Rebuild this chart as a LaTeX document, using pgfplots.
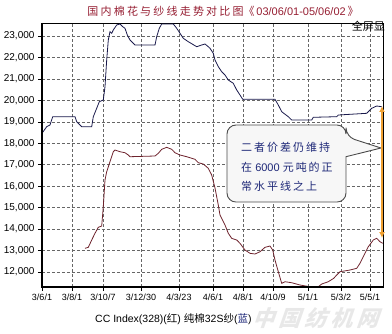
\documentclass[border=0pt]{standalone}
\usepackage{fontspec}
\setmainfont{Liberation Sans}
\newfontfamily\cjk{Noto Sans CJK SC}
\newfontfamily\cjkls[LetterSpace=18]{Noto Sans CJK SC}
\newfontfamily\cjkt[LetterSpace=20]{Noto Sans CJK SC}
\usepackage{pgfplots}
\pgfplotsset{compat=1.18}
\usetikzlibrary{arrows.meta}
\definecolor{titlered}{RGB}{150,30,50}
\definecolor{yarnblue}{RGB}{25,25,75}
\definecolor{cotred}{RGB}{110,35,45}
\definecolor{boxtext}{RGB}{30,40,120}
\definecolor{arroworange}{RGB}{240,160,50}
\begin{document}
\begin{tikzpicture}
\path[use as bounding box] (-42pt,-47pt) rectangle (350pt,287pt);
% watermark
\node[anchor=west, text=gray!18, font=\fontsize{22}{24}\selectfont\cjkls\bfseries, xslant=0.35] at (210pt,-31pt) {中国纺机网};
\begin{axis}[
  at={(0pt,0pt)}, anchor=south west,
  scale only axis, width=341pt, height=264pt,
  xmin=0, xmax=341, ymin=11300, ymax=23606,
  xtick={0,30,61,99,137,171,201,231,266,299,328},
  xticklabels={3/6/1,3/8/1,3/10/7,3/12/30,4/3/23,4/6/1,4/8/1,4/10/9,5/1/1,5/3/2,5/5/1},
  minor x tick num=2,
  ytick={12000,13000,...,23000},
  scaled y ticks=false,
  /pgf/number format/1000 sep={,},
  /pgf/number format/assume math mode=true,
  xticklabel style={font=\fontsize{9}{10}\selectfont, yshift=1pt},
  yticklabel style={font=\fontsize{10}{11}\selectfont},
  tick align=outside, xtick pos=bottom, ytick pos=left,
  major tick length=4pt, minor tick length=2.5pt,
  tick style={black, line width=0.6pt},
  grid=major,
  major grid style={gray!80!black, line width=0.5pt, dash pattern=on 3pt off 2pt},
  axis line style={black, line width=0.8pt},
  clip=false,
]
% 纯棉32S纱 (blue)
\addplot[yarnblue, line width=0.8pt] coordinates {
(0,18464) (4.7,18772) (8,18851) (10.7,19238) (33,19238) (34.7,19005) (39.7,18772)
(49.7,18772) (51.3,19238) (54.7,19629) (57.3,19937) (61.3,20016) (63,20636)
(64.7,21881) (66.3,22814) (68,23200) (69.7,23126) (71.3,23280) (74.7,23513)
(78,23560) (80.7,23434) (83,23359) (85.3,23047) (88,22814) (93,22580) (113,22580)
(114.7,22967) (117.3,23359) (119.7,23560) (131.3,23560) (134.7,23359) (138,23126)
(141.3,22893) (146.3,22734) (154.7,22501) (159.7,22580) (163,22627) (166.3,22501)
(168,22427) (171.3,22193) (173,21881) (176.3,21569) (179.7,21336) (183,21182)
(186.3,20949) (191.3,20795) (194.7,20483) (198,20250) (200.7,20049) (233,20049)
(236.3,19783) (239.7,19471) (246.3,19238) (249.7,19084) (269.7,19084) (271.3,19210)
(294.7,19238) (296.3,19317) (324.7,19396) (329.7,19629) (334.7,19737) (339.7,19704)
};
% CC Index 328 (red)
\addplot[cotred, line width=0.8pt] coordinates {
(43,13103) (46.3,13149) (49.7,13490) (53,13802) (56.3,14082) (59.7,14142)
(61.3,15042) (63,16287) (64.7,16674) (68,17140) (71.3,17606) (73,17685)
(78,17606) (83,17559) (86.3,17452) (88,17373) (113,17406) (116.3,17531)
(119.7,17718) (124.7,17811) (129.7,17718) (133,17559) (138,17452) (144.7,17373)
(153,17252) (156.3,17093) (161.3,17033) (166.3,16832) (169.7,16520) (173,15914)
(176.3,15121) (178,14655) (183,14189) (186.3,13802) (189.7,13569) (194.7,13490)
(198,13336) (203,13023) (208,12870) (213,12837) (218,12944) (223,13149)
(228,13210) (230.7,13023) (233,12557) (236.3,12012) (239.7,11471) (243,11546)
(249.7,11499) (258,11392) (268,11313) (276.3,11313) (279.7,11438) (286.3,11546)
(291.7,11704) (294.7,11858) (298,12012) (308,12091) (314.7,12170) (318,12403)
(323,12870) (326.3,13177) (331.3,13490) (334.7,13569) (338,13410) (340.7,13336)
};
% thicker left and bottom frame
\draw[black, line width=1.6pt] (rel axis cs:0,1) -- (rel axis cs:0,0) -- (rel axis cs:1,0);
% speech bubble
\draw[fill=gray!6, draw=gray!60!black, line width=0.9pt, rounded corners=9pt]
  (axis cs:185,18851) -- (axis cs:304,18851) -- (axis cs:304,18305) [sharp corners]
  -- (axis cs:339,17779) -- (axis cs:304,17373) [rounded corners=9pt]
  -- (axis cs:304,15261) -- (axis cs:185,15261) -- cycle;
\node[anchor=west, text=boxtext, font=\fontsize{11}{12}\selectfont\cjkls, inner sep=0pt] at (axis cs:199,17825) {二者价差仍维持};
\node[anchor=west, text=boxtext, font=\fontsize{11}{12}\selectfont, inner sep=0pt] at (axis cs:199,16893) {{\cjk 在} 6000 {\cjkls 元吨的正}};
\node[anchor=west, text=boxtext, font=\fontsize{11}{12}\selectfont\cjkls, inner sep=0pt] at (axis cs:199,16007) {常水平线之上};
% orange double arrow
\draw[arroworange, line width=1.8pt, {Latex[length=6pt,width=6pt]}-{Latex[length=6pt,width=6pt]}]
  (axis cs:340,19737) -- (axis cs:340,13583);
\end{axis}
% title
\node[text=titlered, font=\fontsize{11}{13}\selectfont] at (181pt,276pt)
  {{\cjkt 国内棉花与纱线走势对比图}{\cjk 《}\,03/06/01-05/06/02\,{\cjk 》}};
% full screen text
\node[anchor=east, font=\fontsize{11}{12}\selectfont\cjk, inner sep=0pt] at (343pt,261pt) {全屏显};
% caption
\node[anchor=west, font=\fontsize{10.5}{12}\selectfont, inner sep=0pt] at (53pt,-32pt)
  {CC Index(328)({\cjk 红}) {\cjk 纯棉}32S{\cjk 纱}({\color{boxtext}\cjk 蓝})};
\end{tikzpicture}
\end{document}
